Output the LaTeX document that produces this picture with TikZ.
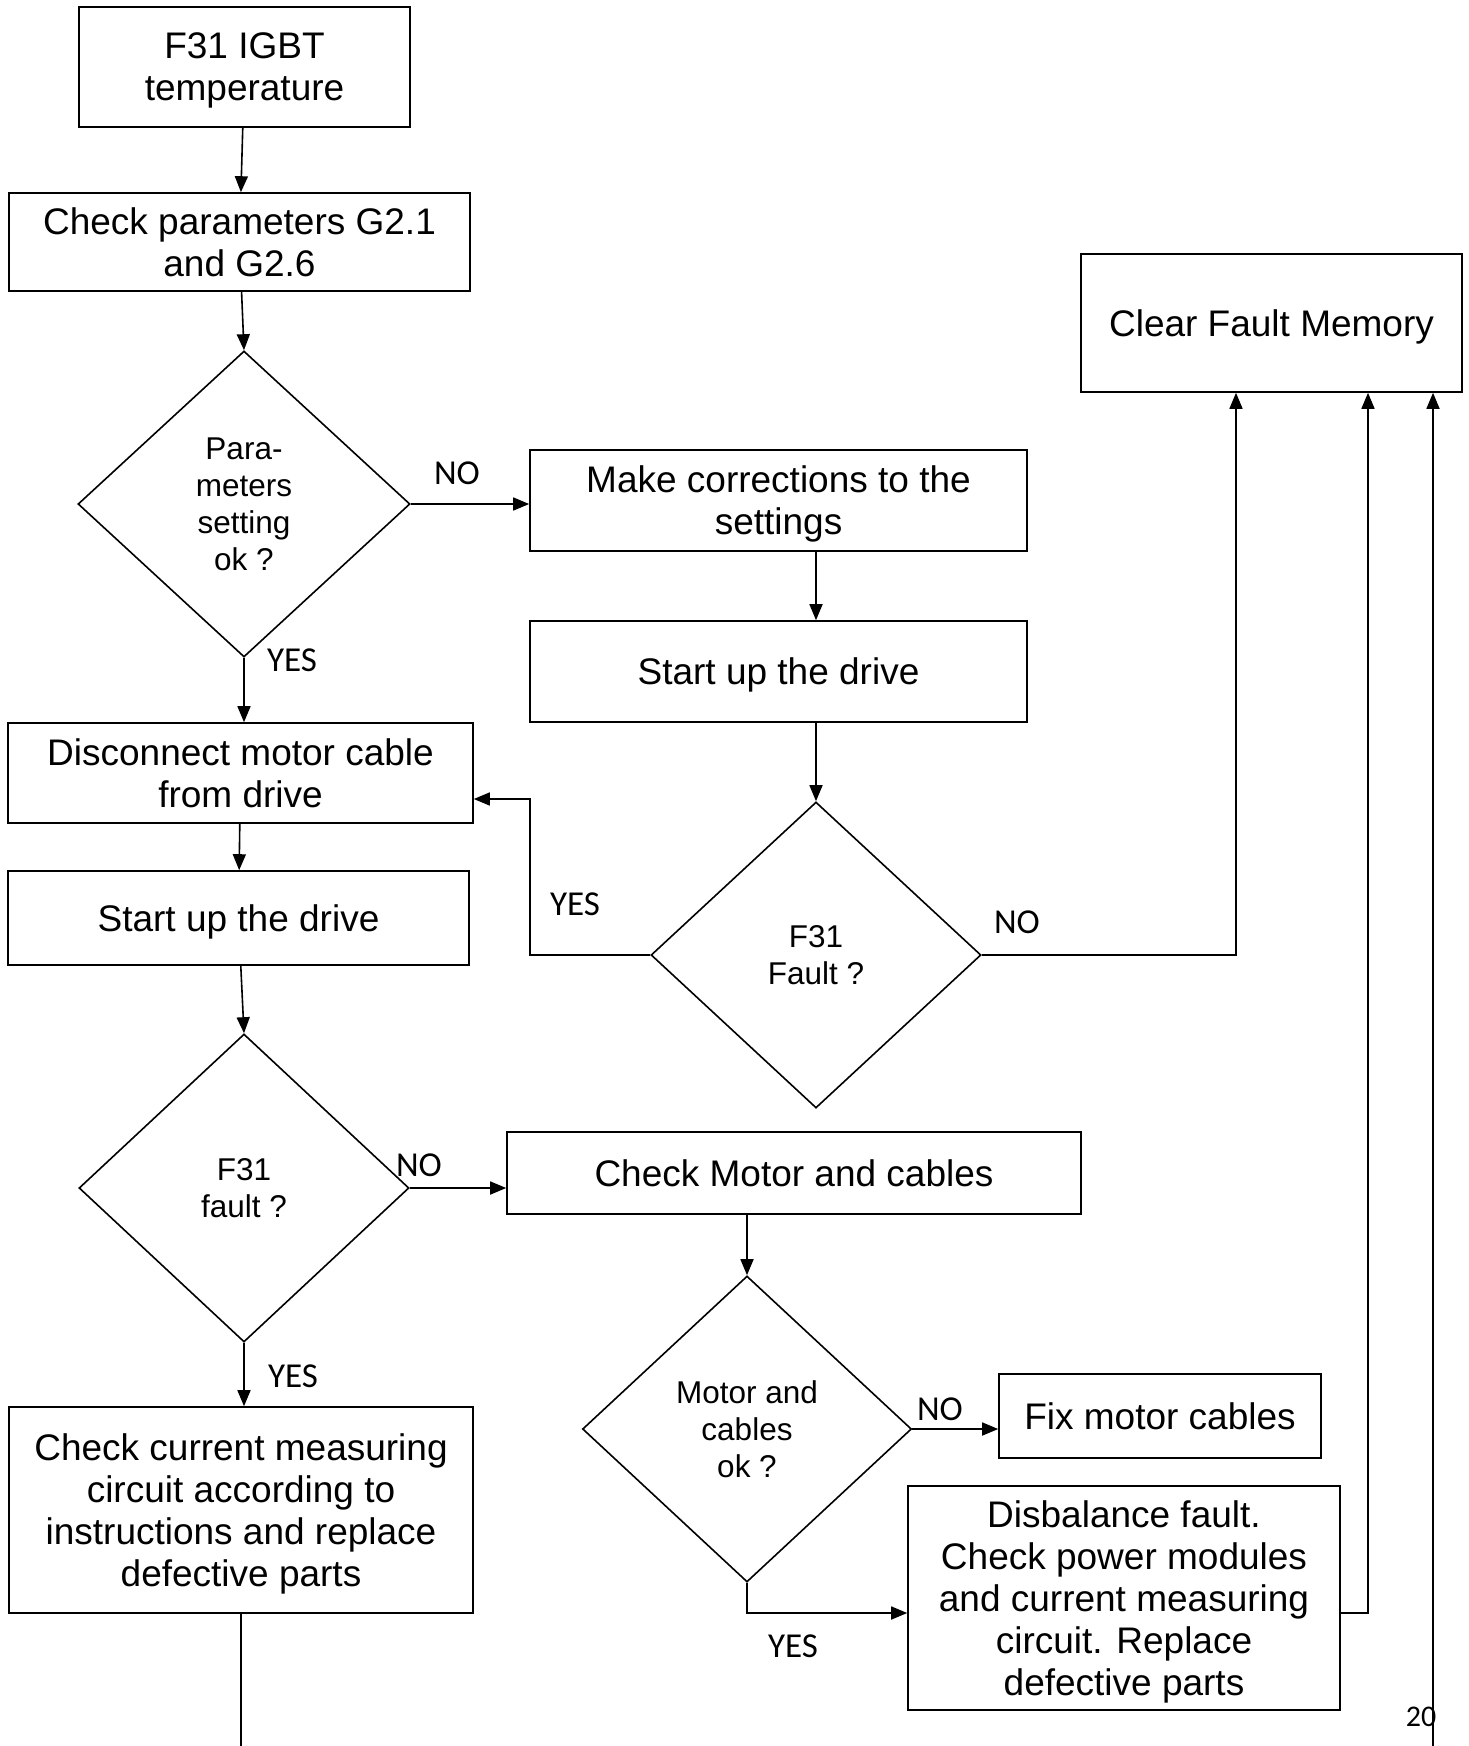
\documentclass[tikz,border=0pt]{standalone}
\usepackage{fontspec}
\setmainfont{Liberation Sans}
\newfontfamily\answerfont{Carlito}
\usetikzlibrary{shapes.geometric,arrows.meta}

\begin{document}
\begin{tikzpicture}[x=1pt, y=-1pt, line width=1.6pt,
        stepbox/.style={draw, rectangle, align=center, inner sep=0pt,
            text depth=-3pt, font=\fontsize{37}{42}\selectfont},
        decision/.style={draw, diamond, align=center, inner sep=0pt,
            font=\fontsize{31.5}{37}\selectfont},
        answer/.style={inner sep=0pt, font=\answerfont\fontsize{35}{40}\selectfont},
        flow/.style={-{Triangle[length=16pt, width=13pt]}}]

        \useasboundingbox (0, 0) rectangle (1468, 1746);

        \node [stepbox, minimum width=331pt, minimum height=120pt] (igbt) at (244.5, 67) {F31 IGBT\\temperature};
        \node [stepbox, minimum width=461pt, minimum height=98pt, text depth=-11pt] (checkpar) at (239.5, 242) {Check parameters G2.1\\and G2.6};
        \node [decision, minimum width=332pt, minimum height=306pt] (parok) at (244, 504) {Para-\\meters\\setting\\ok ?};
        \node [stepbox, minimum width=497pt, minimum height=101pt, text depth=-9pt] (correct) at (778.5, 500.5) {Make corrections to the\\settings};
        \node [stepbox, minimum width=497pt, minimum height=101pt] (startright) at (778.5, 671.5) {Start up the drive};
        \node [decision, minimum width=330pt, minimum height=306pt] (faultright) at (816, 955) {F31\\Fault ?};
        \node [stepbox, minimum width=381pt, minimum height=138pt] (clear) at (1271.5, 323) {Clear Fault Memory};

        \node [stepbox, minimum width=465pt, minimum height=100pt, text depth=-9pt] (disconnect) at (240.5, 773) {Disconnect motor cable\\from drive};
        \node [stepbox, minimum width=461pt, minimum height=94pt] (startleft) at (238.5, 918) {Start up the drive};
        \node [decision, minimum width=330pt, minimum height=308pt] (faultleft) at (244, 1188) {F31\\fault ?};
        \node [stepbox, minimum width=574pt, minimum height=82pt] (checkmotor) at (794, 1173) {Check Motor and cables};
        \node [decision, minimum width=329pt, minimum height=306pt] (motorok) at (747, 1429) {Motor and\\cables\\ok ?};
        \node [stepbox, minimum width=322pt, minimum height=84pt] (fixcables) at (1160, 1416) {Fix motor cables};
        \node [stepbox, minimum width=432pt, minimum height=224pt, text depth=-11pt] (disbalance) at (1124, 1598) {Disbalance fault.\\Check power modules\\and current measuring\\circuit. Replace\\defective parts};
        \node [stepbox, minimum width=464pt, minimum height=206pt] (checkcurrent) at (241, 1510) {Check current measuring\\circuit according to\\instructions and replace\\defective parts};

        \coordinate (yesturn) at (530, 799);
        \coordinate (yesbend) at (747, 1613);
        \coordinate (railone) at (1236, 955);
        \coordinate (railtwo) at (1368, 1613);
        \coordinate (railthree) at (1433, 1746);
        \coordinate (leftout) at (241, 1746);

        \draw [flow] (igbt) -- (checkpar);
        \draw [flow] (checkpar) -- (parok.north);
        \draw [flow] (parok.east) -- (parok.east -| correct.west);
        \draw [flow] (correct.south -| faultright.north) -- (startright.north -| faultright.north);
        \draw [flow] (startright.south -| faultright.north) -- (faultright.north);
        \draw [flow] (faultright.west) -| (yesturn) -- (yesturn -| disconnect.east);
        \draw [flow] (faultright.east) -- (railone) -- (railone |- clear.south);

        \draw [flow] (parok.south) -- (parok.south |- disconnect.north);
        \draw [flow] (disconnect) -- (startleft);
        \draw [flow] (startleft) -- (faultleft.north);
        \draw [flow] (faultleft.east) -- (faultleft.east -| checkmotor.west);
        \draw [flow] (faultleft.south) -- (faultleft.south |- checkcurrent.north);
        \draw [flow] (checkmotor.south -| motorok.north) -- (motorok.north);
        \draw [flow] (motorok.east) -- (motorok.east -| fixcables.west);
        \draw [flow] (motorok.south) -- (yesbend) -- (yesbend -| disbalance.west);
        \draw [flow] (railtwo -| disbalance.east) -- (railtwo) -- (railtwo |- clear.south);
        \draw [flow] (railthree) -- (railthree |- clear.south);
        \draw (checkcurrent.south) -- (leftout);

        \node [answer] (noparam) at (457, 473) {NO};
        \node [answer] (yesparam) at (292, 660) {YES};
        \node [answer] (yesright) at (575, 904) {YES};
        \node [answer] (noright) at (1017, 922) {NO};
        \node [answer] (noleft) at (419, 1165) {NO};
        \node [answer] (yesleft) at (293, 1376) {YES};
        \node [answer] (nomotor) at (940, 1409) {NO};
        \node [answer] (yesmotor) at (793, 1646) {YES};
        \node [answer, font=\answerfont\fontsize{30}{34}\selectfont] (pagenum) at (1421, 1717) {20};

    \end{tikzpicture}
\end{document}
